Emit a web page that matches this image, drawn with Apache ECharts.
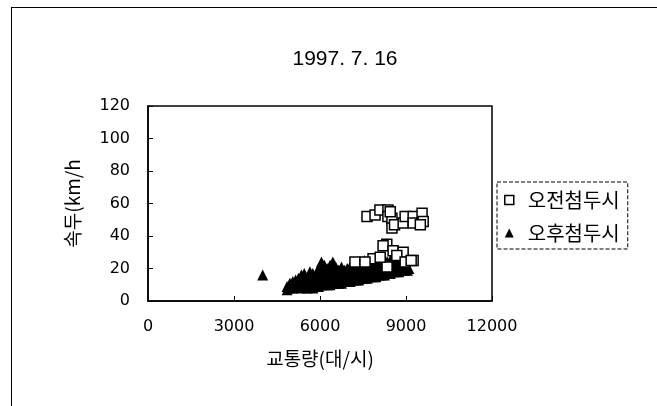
<!DOCTYPE html>
<html><head><meta charset="utf-8">
<script src="https://cdn.jsdelivr.net/npm/echarts@6/dist/echarts.min.js"></script>
<style>html,body{margin:0;padding:0;background:#fff}#c{width:657px;height:406px}</style>
</head><body><div id="c"></div>
<script>
const titleText = '1997. 7. 16';
const xAxisName = '교통량(대/시)';
const yAxisName = '속두(km/h';
const seriesNames = ['오전첨두시', '오후첨두시'];
const xTicks = [0, 3000, 6000, 9000, 12000];
const yTicks = [0, 20, 40, 60, 80, 100, 120];

// 오전첨두시 (squares): [traffic volume, speed]
const amPoints = [
  [7640, 52], [7920, 53], [8090, 56], [8370, 56], [8370, 52], [8510, 51], [8510, 45], [8600, 47],
  [8900, 48], [8970, 52], [9250, 52], [9250, 48], [9560, 54], [9600, 49], [9500, 47], [8450, 55],
  [8330, 35], [8200, 34], [8550, 31], [8900, 30], [9250, 25], [7850, 26], [8340, 21], [7220, 24],
  [7570, 24], [8100, 27], [8680, 28], [8970, 24], [9180, 25]
];

// 오후첨두시 (triangles): [traffic volume, speed]
const pmPoints = [
  [4000, 16],
  [4850, 7], [4850, 9], [4950, 8], [4950, 11], [5050, 8], [5050, 12],
  [5150, 9], [5150, 11], [5150, 13], [5250, 9], [5250, 12], [5250, 14],
  [5350, 8], [5350, 11], [5350, 14], [5350, 16], [5450, 9], [5450, 12], [5450, 15], [5450, 17],
  [5550, 8], [5550, 11], [5550, 14], [5650, 9], [5650, 12], [5650, 15], [5650, 18],
  [5750, 8], [5750, 11], [5750, 14], [5750, 17], [5850, 9], [5850, 12], [5850, 15],
  [5950, 9], [5950, 13], [5950, 17], [5950, 20], [6050, 10], [6050, 13], [6050, 17], [6050, 21], [6050, 24],
  [6150, 10], [6150, 14], [6150, 18], [6150, 22], [6250, 10], [6250, 13], [6250, 17], [6250, 20],
  [6350, 10], [6350, 14], [6350, 18], [6350, 22], [6450, 11], [6450, 15], [6450, 19], [6450, 24],
  [6550, 11], [6550, 14], [6550, 18], [6550, 21], [6650, 11], [6650, 15], [6650, 19],
  [6750, 11], [6750, 14], [6750, 17], [6750, 21], [6850, 12], [6850, 15], [6850, 19],
  [6950, 12], [6950, 16], [6950, 20], [7050, 12], [7050, 15], [7050, 18], [7050, 21],
  [7150, 13], [7150, 16], [7150, 20], [7150, 24], [7250, 13], [7250, 17], [7250, 21],
  [7350, 13], [7350, 16], [7350, 19], [7350, 22], [7450, 14], [7450, 17], [7450, 21],
  [7550, 14], [7550, 18], [7550, 22], [7550, 25], [7650, 14], [7650, 17], [7650, 20], [7650, 24],
  [7750, 15], [7750, 18], [7750, 22], [7850, 15], [7850, 19], [7850, 23],
  [7950, 15], [7950, 18], [7950, 21], [7950, 25], [8050, 16], [8050, 19], [8050, 23], [8050, 27],
  [8150, 16], [8150, 20], [8150, 24], [8250, 16], [8250, 19], [8250, 22], [8250, 26],
  [8350, 17], [8350, 20], [8350, 24], [8450, 17], [8450, 21], [8450, 25],
  [8550, 18], [8550, 21], [8550, 24], [8550, 27], [8650, 18], [8650, 22], [8650, 25],
  [8750, 18], [8750, 21], [8750, 24], [8850, 19], [8850, 22], [8850, 25],
  [8950, 19], [8950, 22], [9050, 19], [9050, 21], [9100, 20]
];

const fontKR = '"Noto Sans CJK KR", "DejaVu Sans", sans-serif';
const fontNum = '"DejaVu Sans", sans-serif';
const chart = echarts.init(document.getElementById('c'), null, {renderer: 'canvas'});
chart.setOption({
  animation: false,
  backgroundColor: '#fff',
  title: {
    text: titleText, left: 340, top: 44, textAlign: 'center',
    textStyle: {fontFamily: '"Liberation Sans", Arial, sans-serif', fontWeight: 'normal', fontSize: 21, color: '#000'}
  },
  graphic: [
    {type: 'line', shape: {x1: 11, y1: 7.5, x2: 657, y2: 7.5}, style: {stroke: '#000', lineWidth: 1}},
    {type: 'line', shape: {x1: 11.5, y1: 7, x2: 11.5, y2: 406}, style: {stroke: '#000', lineWidth: 1}}
  ],
  legend: {
    orient: 'vertical', left: 497, top: 182,
    padding: [8, 8, 6, 7], itemGap: 13, itemWidth: 9, itemHeight: 9,
    borderColor: '#000', borderWidth: 1, borderType: 'dashed',
    textStyle: {fontFamily: fontKR, fontSize: 20, color: '#000', padding: [0, 0, 0, 9]},
    data: [
      {name: seriesNames[0], icon: 'rect', itemStyle: {color: '#fff', borderColor: '#000', borderWidth: 1.5}},
      {name: seriesNames[1], icon: 'triangle', itemStyle: {color: '#000'}}
    ]
  },
  grid: {left: 148, top: 106, right: 165, bottom: 105, show: true, borderColor: '#000', borderWidth: 1.5},
  xAxis: {
    type: 'value', min: xTicks[0], max: xTicks[xTicks.length - 1], interval: 3000,
    name: xAxisName, nameLocation: 'middle', nameGap: 48, nameMoveOverlap: false,
    nameTextStyle: {fontFamily: fontKR, fontSize: 19, color: '#000'},
    axisLine: {show: true, lineStyle: {color: '#000', width: 1.5}},
    axisTick: {show: true, inside: true, length: 5, lineStyle: {color: '#000'}},
    axisLabel: {margin: 18, fontFamily: fontNum, fontSize: 16, color: '#000',
      formatter: v => String(v)},
    splitLine: {show: false}
  },
  yAxis: {
    type: 'value', min: yTicks[0], max: yTicks[yTicks.length - 1], interval: 20,
    name: yAxisName, nameLocation: 'middle', nameGap: 66, nameMoveOverlap: false,
    nameTextStyle: {fontFamily: fontKR, fontSize: 19, color: '#000'},
    axisLine: {show: true, lineStyle: {color: '#000', width: 1.5}},
    axisTick: {show: true, inside: true, length: 5, lineStyle: {color: '#000'}},
    axisLabel: {margin: 18, fontFamily: fontNum, fontSize: 16, color: '#000',
      formatter: v => String(v)},
    splitLine: {show: false}
  },
  series: [
    {name: seriesNames[1], type: 'scatter', symbol: 'triangle', symbolSize: 11, z: 2,
     itemStyle: {color: '#000', opacity: 1}, data: pmPoints},
    {name: seriesNames[0], type: 'scatter', symbol: 'rect', symbolSize: 10, z: 3,
     itemStyle: {color: '#fff', borderColor: '#000', borderWidth: 1.5, opacity: 1}, data: amPoints}
  ]
});
</script></body></html>
